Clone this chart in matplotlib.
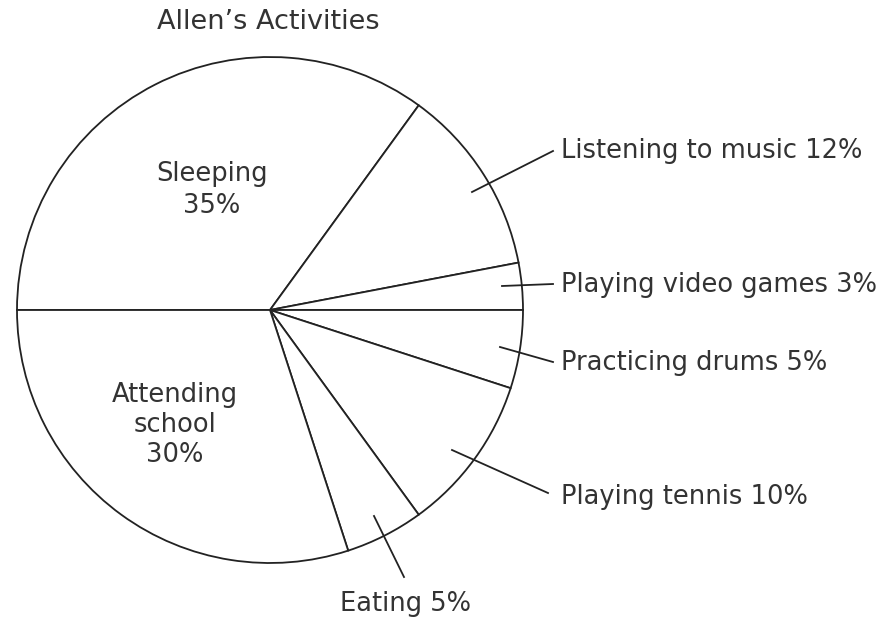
import matplotlib.pyplot as plt

# Allen's activities, share of the day in percent
activities = ["Sleeping", "Listening to music", "Playing video games",
              "Practicing drums", "Playing tennis", "Eating", "Attending school"]
shares = [35, 12, 3, 5, 10, 5, 30]

# Label text for each slice
inside_labels = {"Sleeping": "Sleeping\n35%", "Attending school": "Attending\nschool\n30%"}
outside_labels = {
    "Listening to music": "Listening to music 12%",
    "Playing video games": "Playing video games 3%",
    "Practicing drums": "Practicing drums 5%",
    "Playing tennis": "Playing tennis 10%",
    "Eating": "Eating 5%",
}

W, H = 889, 619
fig = plt.figure(figsize=(W / 100, H / 100), dpi=100)
ax = fig.add_axes([0, 0, 1, 1])

cx, cy, r = 270, H - 310, 253
txt = "#333333"
fs = 18.5

ax.pie(shares, startangle=180, counterclock=False, center=(cx, cy), radius=r,
       colors=["white"] * len(shares),
       wedgeprops=dict(edgecolor="#222222", linewidth=1.3), frame=True)
ax.set_xlim(0, W)
ax.set_ylim(0, H)
ax.set_aspect("equal")
ax.axis("off")

ax.text(268, H - 22, "Allen\u2019s Activities", ha="center", va="center",
        fontsize=19.5, color=txt)

ax.text(212, H - 190, inside_labels["Sleeping"], ha="center", va="center",
        fontsize=fs, color=txt, linespacing=1.3)
ax.text(175, H - 425, inside_labels["Attending school"], ha="center", va="center",
        fontsize=fs, color=txt, linespacing=1.2)

# leader line start (inside slice), end, and label anchor in pixel coords
leaders = {
    "Listening to music": ((472, 192), (553, 151), (561, 151), "left"),
    "Playing video games": ((502, 286), (553, 284), (561, 285), "left"),
    "Practicing drums": ((500, 347), (553, 362), (561, 363), "left"),
    "Playing tennis": ((452, 450), (548, 493), (561, 497), "left"),
    "Eating": ((374, 516), (404, 577), (405, 604), "center"),
}
for name, (p0, p1, pt, ha) in leaders.items():
    ax.plot([p0[0], p1[0]], [H - p0[1], H - p1[1]], color="#222222", lw=1.3)
    ax.text(pt[0], H - pt[1], outside_labels[name], ha=ha, va="center",
            fontsize=fs, color=txt)

fig.savefig("out.png", dpi=100, facecolor="white")
